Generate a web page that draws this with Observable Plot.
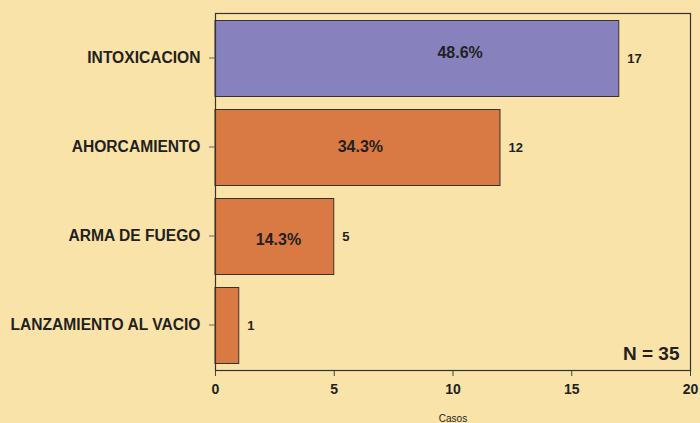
<!DOCTYPE html>
<html><head><meta charset="utf-8">
<script src="https://cdn.jsdelivr.net/npm/d3@7"></script>
<script src="https://cdn.jsdelivr.net/npm/@observablehq/plot@0.6"></script>
<style>body{margin:0;background:#F9E3A9;}</style>
</head><body><div id="chart"></div>
<script>
const categories = ["INTOXICACION", "AHORCAMIENTO", "ARMA DE FUEGO", "LANZAMIENTO AL VACIO"];
const cases = [17, 12, 5, 1];
const percents = ["48.6%", "34.3%", "14.3%", ""];
const percentPos = [10.3, 6.1, 2.65, 0.5];
const xTicks = [0, 5, 10, 15, 20];
const totalLabel = "N = 35";
const xLabel = "Casos";

const data = categories.map((c, i) => ({cat: c, n: cases[i], pct: percents[i], px: percentPos[i]}));
const ink = "#231F20";
const purple = "#8782BE";
const orange = "#D97A44";
const pctShift = [-6, -1.5, 2.5];

const chart = Plot.plot({
  width: 700,
  height: 423,
  marginLeft: 215,
  marginRight: 10,
  marginTop: 13,
  marginBottom: 53,
  style: {background: "#F9E3A9", fontFamily: "'Liberation Sans', Arial, sans-serif", color: ink},
  x: {domain: [0, 20]},
  y: {domain: categories, padding: 0},
  marks: [
    Plot.barX(data, {x: "n", y: "cat", insetTop: 6.5, insetBottom: 6.5,
      fill: d => d.cat === "INTOXICACION" ? purple : orange, stroke: "#333", strokeWidth: 1}),
    ...pctShift.map((s, i) => Plot.text([data[i]], {x: "px", y: "cat", text: "pct", fontSize: 16, fontWeight: "bold", fill: ink, dy: s})),
    Plot.text(data, {x: "n", y: "cat", text: d => String(d.n), dx: 8, textAnchor: "start", fontSize: 13, fontWeight: "bold", fill: ink}),
    Plot.text([totalLabel], {frameAnchor: "bottom-right", dx: -11, dy: -11, fontSize: 19, fontWeight: "bold", fill: ink, textAnchor: "end", lineAnchor: "bottom"}),
    Plot.text([xLabel], {frameAnchor: "bottom", dy: 48, fontSize: 10, fill: ink, lineAnchor: "middle"}),
    Plot.axisX({ticks: xTicks, tickSize: 6, tickPadding: 8, fontSize: 14, fontWeight: "bold", label: null, stroke: "#444", fill: ink}),
    Plot.axisY({tickSize: 6, tickPadding: 9, fontSize: 15.6, fontWeight: "bold", label: null, stroke: "#666", fill: ink, dy: -1}),
    Plot.frame({stroke: "#333", strokeWidth: 1.2})
  ]
});
document.getElementById("chart").appendChild(chart);
</script>
</body></html>
